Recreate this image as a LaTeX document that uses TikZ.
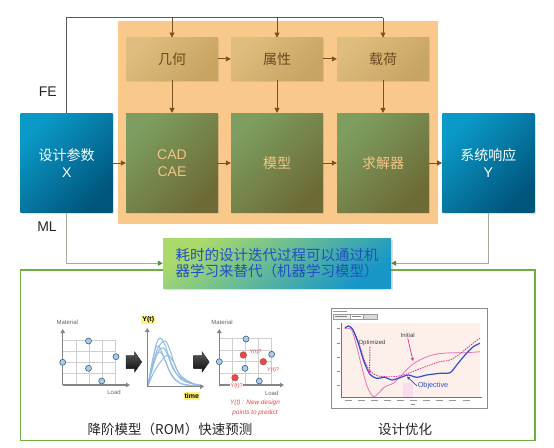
\documentclass[tikz,border=0pt]{standalone}
\usepackage{fontspec}
\setmainfont{Liberation Sans}
\newfontfamily\cjk{Noto Sans CJK SC}
\usetikzlibrary{arrows.meta,shadows,calc}
\definecolor{orangebg}{HTML}{F9C98C}
\definecolor{tanA}{HTML}{DEBD7E}
\definecolor{tanB}{HTML}{C8A462}
\definecolor{tantext}{HTML}{6B4A1F}
\definecolor{grA}{HTML}{7D9E60}
\definecolor{grB}{HTML}{6D6A35}
\definecolor{grtext}{HTML}{F2C585}
\definecolor{blA}{HTML}{0B9AC8}
\definecolor{blB}{HTML}{00557C}
\definecolor{brownarr}{HTML}{7A5020}
\definecolor{framec}{HTML}{70AD47}
\definecolor{mlline}{HTML}{A5AE9B}
\definecolor{mlarr}{HTML}{4F8F2F}
\definecolor{tealA}{HTML}{ABDA6C}
\definecolor{tealB}{HTML}{1797C8}
\definecolor{bluetext}{HTML}{2050C0}
\definecolor{ptblue}{HTML}{A9CCEA}
\definecolor{ptedge}{HTML}{3F5F80}
\definecolor{ptred}{HTML}{E8494B}
\definecolor{gridc}{HTML}{CFCFCF}
\definecolor{axisc}{HTML}{858585}
\definecolor{curveblue}{HTML}{93BDE6}
\definecolor{hl}{HTML}{FFF27A}
\definecolor{plotbg}{HTML}{FDEFEA}
\definecolor{objblue}{HTML}{2F52CC}
\definecolor{magc}{HTML}{E0339B}
\definecolor{pinkc}{HTML}{E873BC}
\tikzset{
  tanbox/.style={minimum width=92pt, minimum height=42.3pt, inner sep=0pt,
    top color=tanA, bottom color=tanB, shading angle=45, text=tantext,
    font=\cjk\fontsize{14}{17}\selectfont,
    drop shadow={shadow xshift=1pt, shadow yshift=-1.5pt, opacity=0.2}},
  grbox/.style={minimum width=92pt, minimum height=99.7pt, inner sep=0pt,
    top color=grA, bottom color=grB, shading angle=45, text=grtext, align=center,
    font=\fontsize{14}{17.5}\selectfont,
    drop shadow={shadow xshift=1pt, shadow yshift=-1.5pt, opacity=0.2}},
  blbox/.style={minimum width=92pt, minimum height=99.7pt, inner sep=0pt,
    top color=blA, bottom color=blB, shading angle=45, text=white, align=center,
    font=\fontsize{14}{17.5}\selectfont,
    drop shadow={shadow xshift=1.5pt, shadow yshift=-1.5pt, opacity=0.25}},
  barr/.style={draw=brownarr, line width=0.9pt, -{Triangle[length=5pt,width=5pt]}},
  mlpath/.style={draw=mlline, line width=0.9pt, -{Triangle[length=5pt,width=5pt,color=mlarr]}},
  biglab/.style={font=\fontsize{14}{17}\selectfont, text=black!85},
  smalllab/.style={font=\fontsize{6}{7}\selectfont, text=black!60, inner sep=0.5pt},
  redsmall/.style={font=\fontsize{5.5}{6}\selectfont, text=ptred, inner sep=0.5pt},
  bpt/.style={fill=ptblue, draw=ptedge, line width=0.6pt},
  rpt/.style={fill=ptred, draw=ptred!80!black, line width=0.4pt},
  gline/.style={draw=gridc, line width=0.6pt},
  axisl/.style={draw=axisc, line width=1.4pt, -{Triangle[length=4pt,width=4.5pt]}},
  curveln/.style={draw=curveblue, line width=1pt},
  blockarr/.style={top color=black!65, bottom color=black!95, draw=black!80, line width=0.3pt},
  captext/.style={font=\cjk\fontsize{13.5}{16}\selectfont, text=black!85},
}
\begin{document}
\begin{tikzpicture}[x=1pt, y=-1pt]
\useasboundingbox (0,0) rectangle (554,447);
\fill[white] (0,0) rectangle (554,447);

% orange background
\fill[orangebg] (118,20.7) rectangle (437.7,224);

% boxes
\node[tanbox] (g1) at (172,58.9) {几何};
\node[tanbox] (g2) at (277,58.9) {属性};
\node[tanbox] (g3) at (383,58.9) {载荷};
\node[grbox] (c1) at (172,163) {CAD\\CAE};
\node[grbox] (c2) at (277,163) {\cjk 模型};
\node[grbox] (c3) at (383,163) {\cjk 求解器};
\node[blbox] (X) at (66.7,163) {{\cjk 设计参数}\\X};
\node[blbox] (Y) at (488.3,163) {{\cjk 系统响应}\\Y};

% top feed line
\coordinate (t1) at (172,17.7);
\coordinate (t2) at (277,17.7);
\coordinate (t3) at (383,17.7);
\draw[draw=black!65, line width=1pt] (X.north) |- (t3);
\draw[barr] (t1) -- (g1.north);
\draw[barr] (t2) -- (g2.north);
\draw[barr] (t3) -- (g3.north);

% arrows inside
\draw[barr] (g1.east) -- (g2.west);
\draw[barr] (g2.east) -- (g3.west);
\draw[barr] (g1.south) -- (c1.north);
\draw[barr] (g2.south) -- (c2.north);
\draw[barr] (g3.south) -- (c3.north);
\draw[barr] (X.east) -- (c1.west);
\draw[barr] (c1.east) -- (c2.west);
\draw[barr] (c2.east) -- (c3.west);
\draw[barr] (c3.east) -- (Y.west);

% labels FE, ML
\node[biglab] (fe) at (47.7,91.7) {FE};
\node[biglab] (ml) at (47,226.5) {ML};

% green frame
\draw[draw=framec, line width=1.3pt] (20.7,270) rectangle (535,440.5);

% teal box
\node[minimum width=228pt, minimum height=50pt, inner sep=0pt,
  top color=tealA, bottom color=tealB, shading angle=35,
  drop shadow={shadow xshift=1.5pt, shadow yshift=-1.5pt, opacity=0.25},
  text=bluetext, align=left, font=\cjk\fontsize{14.5}{16}\selectfont]
  (ml box) at (277,263.2) {耗时的设计迭代过程可以通过机\\器学习来替代（机器学习模型）};

\draw[mlpath] (X.south) |- (ml box.west);
\draw[mlpath] (Y.south) |- (ml box.east);

% ---------- chart 1 ----------
\foreach \i in {1,2,3,4} \draw[gline] (62.7+13.1*\i,385) -- (62.7+13.1*\i,340);
\foreach \j in {1,2,3,4} \draw[gline] (62.7,385-11.25*\j) -- (115.1,385-11.25*\j);
\draw[axisl] (62.7,385) -- (62.7,329);
\draw[axisl] (62.7,385) -- (130,385);
\node[smalllab] (mat1) at (67.3,322.3) {Material};
\node[smalllab] (load1) at (114,392.5) {Load};
\draw[bpt] (88.5,341) circle[radius=3pt];
\draw[bpt] (116,356.7) circle[radius=3pt];
\draw[bpt] (62.7,362.3) circle[radius=3pt];
\draw[bpt] (88.5,368.3) circle[radius=3pt];
\draw[bpt] (101.7,381) circle[radius=3pt];

% block arrows
\fill[blockarr] (126,355.5) -- (134.5,355.5) -- (134.5,351.7) -- (141.7,362) -- (134.5,372.3) -- (134.5,368.5) -- (126,368.5) -- cycle;
\begin{scope}[shift={(67.5,0)}]
\fill[blockarr] (126,355.5) -- (134.5,355.5) -- (134.5,351.7) -- (141.7,362) -- (134.5,372.3) -- (134.5,368.5) -- (126,368.5) -- cycle;
\end{scope}

% ---------- chart 2 ----------
\draw[curveln] plot[smooth, tension=0.6] coordinates {(148,386) (152,365) (156,345) (160,338) (165,345) (172,365) (182,380) (200,385)};
\draw[curveln] plot[smooth, tension=0.6] coordinates {(148,386) (153,365) (158,348) (165,341) (170,350) (176,368) (186,381) (202,386)};
\draw[curveln] plot[smooth, tension=0.6] coordinates {(148,386) (151,368) (155,350) (158.5,346) (163,355) (170,372) (180,383) (198,386)};
\draw[curveln] plot[smooth, tension=0.6] coordinates {(148,386) (152,370) (158,352) (163.5,348) (168,356) (175,372) (188,382) (203,386)};
\draw[curveln] plot[smooth, tension=0.6] coordinates {(148,386) (151,372) (155,358) (160,352) (165,360) (172,376) (182,384) (196,386)};
\draw[curveln] plot[smooth, tension=0.6] coordinates {(148,386) (154,372) (162,360) (168,355) (174,363) (180,375) (192,383) (203,386)};
\draw[axisl] (147.3,386.7) -- (147.3,328);
\draw[axisl] (147.3,386.7) -- (204,386.7);
\node[fill=hl, inner sep=1pt, font=\bfseries\fontsize{7}{8}\selectfont] (yt) at (148.3,320) {Y(t)};
\node[fill=hl, inner sep=1pt, font=\bfseries\fontsize{7}{8}\selectfont] (tm) at (191.7,396) {time};

% ---------- chart 3 ----------
\foreach \i in {1,2,3,4} \draw[gline] (219.3+13.1*\i,385) -- (219.3+13.1*\i,338.3);
\foreach \j in {1,2,3,4} \draw[gline] (219.3,385-11.7*\j) -- (271.7,385-11.7*\j);
\draw[axisl] (219.3,385) -- (219.3,329);
\draw[axisl] (219.3,385) -- (284,385);
\node[smalllab] (mat3) at (222,322.3) {Material};
\node[smalllab] (load3) at (271.7,393.5) {Load};
\draw[bpt] (246,339) circle[radius=3pt];
\draw[bpt] (271.7,354.3) circle[radius=3pt];
\draw[bpt] (219.3,361.7) circle[radius=3pt];
\draw[bpt] (245,368.3) circle[radius=3pt];
\draw[bpt] (259.3,381) circle[radius=3pt];
\draw[rpt] (243.3,355) circle[radius=3.3pt];
\draw[rpt] (263.3,361.7) circle[radius=3.3pt];
\draw[rpt] (235,377.7) circle[radius=3.3pt];
\node[redsmall] (q1) at (255.5,352.5) {Y(t)?};
\node[redsmall] (q2) at (273,370.5) {Y(t)?};
\node[redsmall, fill=white, inner sep=0.3pt] (q3) at (236.7,385.7) {Y(t)?};
\node[font=\itshape\fontsize{6.4}{7}\selectfont, text=ptred, inner sep=0pt] (nd1) at (255,402.7) {Y(t) : New design};
\node[font=\itshape\fontsize{6.4}{7}\selectfont, text=ptred, inner sep=0pt] (nd2) at (255,413.3) {points to predict};

% captions
\node[captext] (cap1) at (170,429.3) {降阶模型（ROM）快速预测};
\node[captext] (cap2) at (405,429.3) {设计优化};

% ---------- screenshot ----------
\node[draw=black!45, fill=white, line width=0.9pt, minimum width=156pt, minimum height=100pt, inner sep=0pt, anchor=north west] (shot) at (330.7,308.3) {};
\draw[black!40, line width=1.2pt] (333,311.5) -- (347,311.5);
\draw[black!40, fill=black!6, line width=0.4pt] (333,314) rectangle (350,319);
\draw[black!40, fill=white, line width=0.4pt] (350,314) rectangle (363,319);
\draw[black!40, fill=black!15, line width=0.4pt] (363,314) rectangle (377,319);
\draw[black!50, line width=0.8pt] (335,316.5) -- (347,316.5);
\draw[black!50, line width=0.8pt] (352,316.5) -- (361,316.5);
\fill[plotbg] (341.7,323.3) rectangle (480,397.3);
\fill[pinkc!25] (403,383) rectangle (413,397.3);
\draw[black!55, line width=0.6pt] (341.7,323.3) -- (341.7,397.3) -- (482,397.3);
\foreach \y in {328,343,357,371,385} \draw[black!45, line width=0.7pt] (336.5,\y) -- (339.5,\y);
\foreach \x in {348,361,374,387,400,413,426,439,452,466} \draw[black!40, line width=0.7pt] (\x-3.5,400.5) -- (\x+3.5,400.5);
\draw[black!45, line width=0.7pt] (411,404.5) -- (415,404.5);

% initial (pink solid)
\draw[pinkc, line width=0.8pt] plot[smooth, tension=0.5] coordinates {(345,328.3) (351.7,330) (356.7,346.7) (361.7,366.7) (367.3,386.7) (373.3,396.7) (378.3,393.3) (385,386.7) (393.3,383.3) (401.7,375) (411.7,365) (423.3,358.3) (436.7,354) (453.3,352.7) (466.7,352.7) (480,351.7)};
% optimized (magenta dashed)
\draw[magc, line width=0.8pt, dash pattern=on 1.5pt off 1pt] plot[smooth, tension=0.5] coordinates {(345,328.3) (348.3,326) (352.7,329.3) (358.3,341.7) (365,361.7) (370.7,371.7) (378.3,376) (393.3,376.7) (403.3,375) (416.7,370) (430,365) (440,361.7) (450,360) (458.3,355) (466.7,348.3) (475,341.7) (480,338.3)};
% objective (blue)
\draw[objblue, line width=1.2pt] plot[smooth, tension=0.5] coordinates {(345,328.3) (348.3,326) (352.7,329.3) (358.3,343.3) (364,361.7) (370,374.3) (376.7,378.3) (385,377.3) (391.7,380) (400,377.7) (408.3,375) (416.7,377.3) (426.7,375) (440,373.3) (450,372.7) (456.7,365) (465,355) (473.3,346.7) (480,343.3)};

\node[font=\fontsize{6}{7}\selectfont, text=black!75, inner sep=0.5pt] (initl) at (407.7,335) {Initial};
\node[font=\fontsize{6}{7}\selectfont, text=black!75, inner sep=0.5pt] (optl) at (372,343.3) {Optimized};
\node[font=\fontsize{7.3}{8}\selectfont, text=objblue, inner sep=0.5pt] (objl) at (433,386) {Objective};
\coordinate (initp) at (413,361);
\coordinate (optp) at (369.5,374);
\coordinate (objp) at (407,376.5);
\draw[magc, line width=0.7pt, -{Triangle[length=3pt,width=3pt]}] (initl.south) -- (initp);
\draw[magc, line width=1pt, dash pattern=on 1.5pt off 1pt, -{Triangle[length=3.5pt,width=3.5pt]}] (optl.south) ++(-2,0) -- (optp);
\draw[objblue, line width=0.7pt, -{Triangle[length=3pt,width=3pt]}] (objl.west) -- (objp);
\end{tikzpicture}
\end{document}
